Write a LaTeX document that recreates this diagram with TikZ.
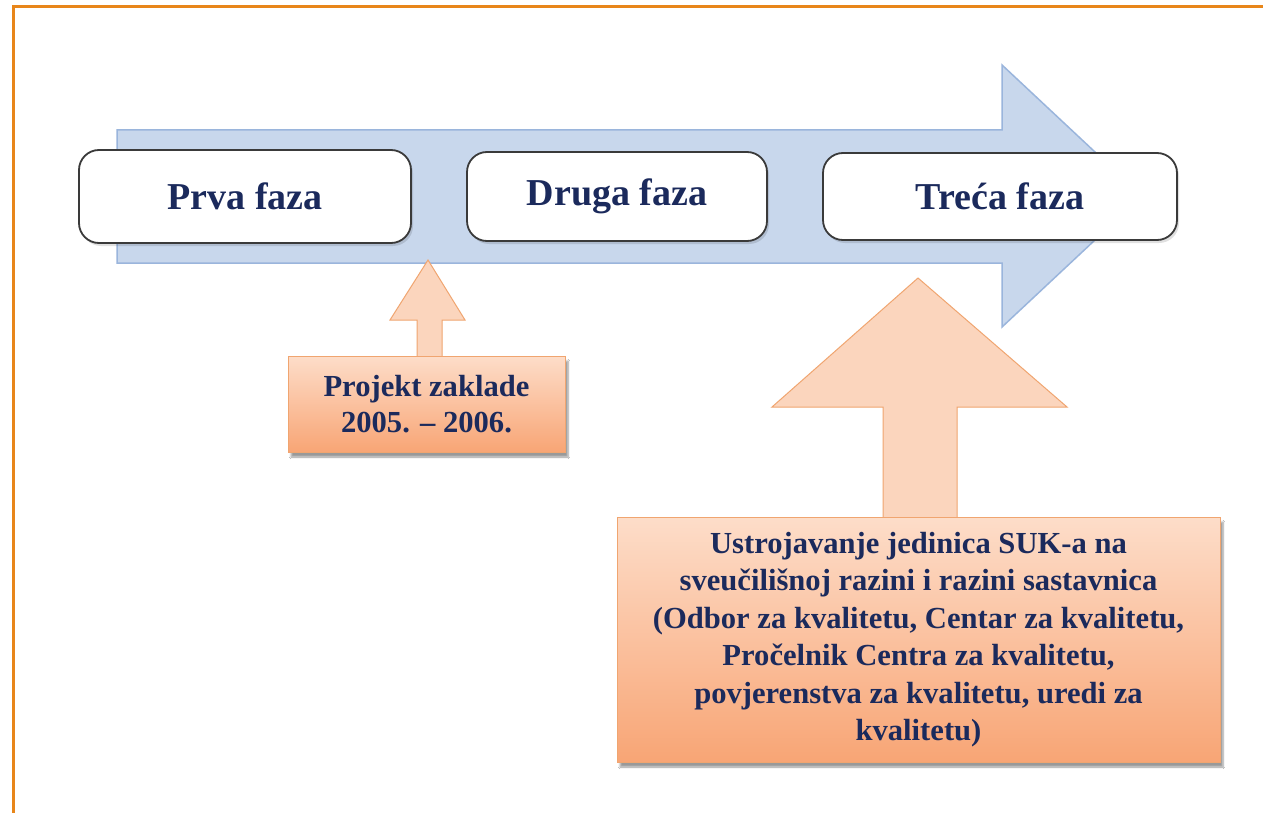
\documentclass[tikz,border=0pt]{standalone}
\usepackage{fontspec}
\setmainfont{Liberation Serif}
\usetikzlibrary{shadows,shadows.blur}
\definecolor{navy}{HTML}{1B2A5C}
\definecolor{frameorange}{HTML}{E8861A}
\definecolor{bluefill}{HTML}{C8D7EC}
\definecolor{blueedge}{HTML}{9AB5DC}
\definecolor{peachtop}{HTML}{FDDDC9}
\definecolor{peachbot}{HTML}{F8A575}
\definecolor{peacharrow}{HTML}{FBD5BD}
\definecolor{peachedge}{HTML}{F0A570}
\definecolor{boxedge}{HTML}{3A3A3A}
\tikzset{
  frame/.style={draw=frameorange, line width=3pt},
  bluearrow/.style={fill=bluefill, draw=blueedge, line width=1.5pt, line join=miter},
  phase/.style={draw=boxedge, line width=1.8pt, fill=white, rounded corners=20pt,
    font=\fontsize{38}{44}\selectfont\bfseries, text=navy,
    drop shadow={shadow xshift=2pt, shadow yshift=-3pt, fill=black, opacity=0.12}},
  orarrow/.style={fill=peacharrow, draw=peachedge, line width=1pt, line join=miter},
  orbox/.style={draw=peachedge, line width=1pt, top color=peachtop, bottom color=peachbot,
    text=navy, align=center, font=\fontsize{30.6}{37.5}\selectfont\bfseries,
    blur shadow={shadow xshift=3pt, shadow yshift=-5pt, shadow blur steps=6, shadow opacity=40}}
}
\begin{document}
\begin{tikzpicture}[x=1pt,y=-1pt]
\useasboundingbox (0,0) rectangle (1263,813);
\fill[white] (0,0) rectangle (1263,813);
\draw[frame] (13,813) -- (13,7) -- (1263,7);

% big blue arrow
\draw[bluearrow] (117,130) -- (1002,130) -- (1002,65) -- (1142,196) -- (1002,327) -- (1002,263) -- (117,263) -- cycle;

% phase boxes
\node[phase, minimum width=332pt, minimum height=93pt] (p1) at (245,196.5) {Prva faza};
\node[phase, minimum width=300pt, minimum height=89pt] (p2) at (617,196.5) {Druga faza};
\node[phase, minimum width=354pt, minimum height=87pt] (p3) at (1000,196.5) {Treća faza};

% small orange arrow
\draw[orarrow] (417,360) -- (417,320) -- (390,320) -- (428,260) -- (465,320) -- (442,320) -- (442,360) -- cycle;
\node[orbox, minimum width=277pt, minimum height=96pt, font=\fontsize{30.6}{35.5}\selectfont\bfseries] (b1) at (426.5,404) {Projekt zaklade\\2005. -- 2006.};

% big orange arrow
\draw[orarrow] (883,520) -- (883,407) -- (772,407) -- (918,278) -- (1067,407) -- (957,407) -- (957,520) -- cycle;
\node[orbox, minimum width=603pt, minimum height=245pt] (b2) at (918.5,639.5)
  {Ustrojavanje jedinica SUK-a na\\sveučilišnoj razini i razini sastavnica\\(Odbor za kvalitetu, Centar za kvalitetu,\\Pročelnik Centra za kvalitetu,\\povjerenstva za kvalitetu, uredi za\\kvalitetu)};
\end{tikzpicture}
\end{document}
